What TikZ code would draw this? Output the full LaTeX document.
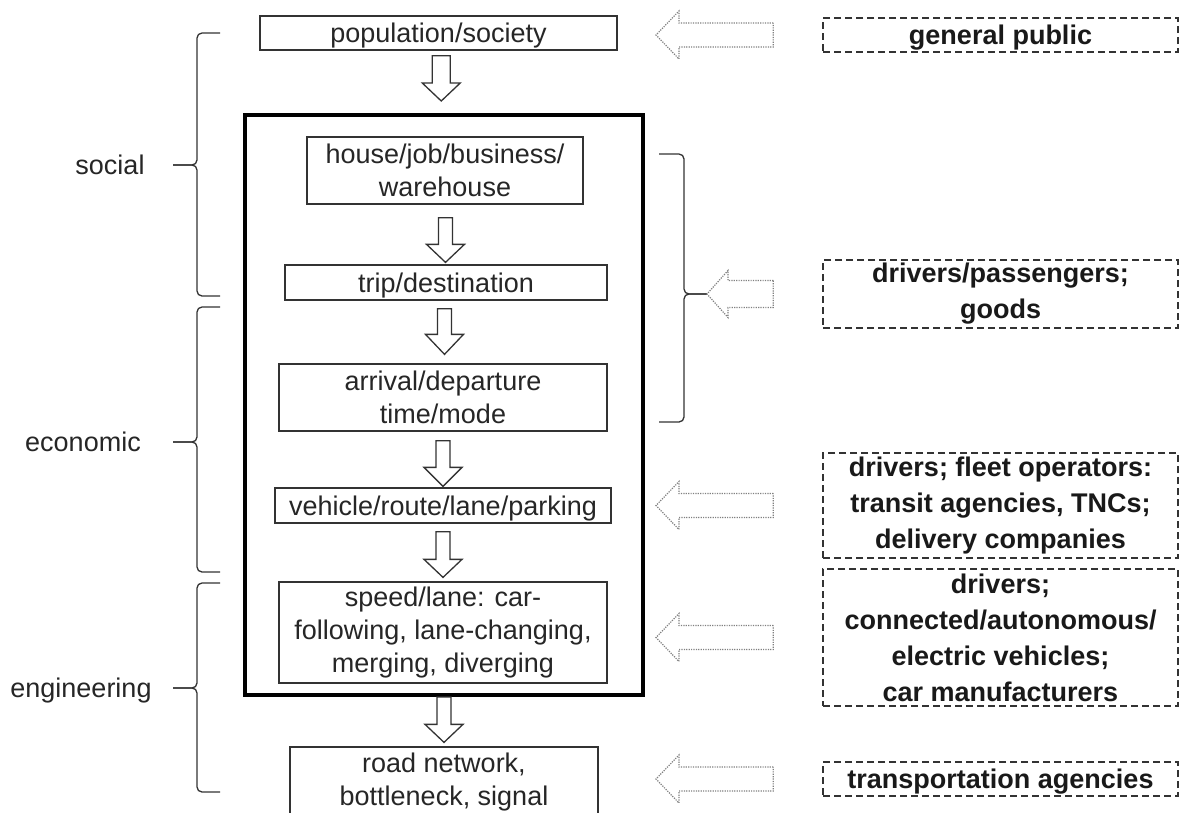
\documentclass[tikz,border=0pt]{standalone}
\usepackage{fontspec}
\setmainfont{Liberation Sans}
\usetikzlibrary{calc}
\newcommand\blockdn[6]{%
 \draw[blk] let \p1=(#1.south), \p2=(#2.north) in
  ({(\x1+\x2)/2-#5},{\y1-#3}) -- ({(\x1+\x2)/2+#5},{\y1-#3}) --
  ({(\x1+\x2)/2+#5},{\y2+#4+#6}) -- ({(\x1+\x2)/2+19pt},{\y2+#4+#6}) --
  ({(\x1+\x2)/2},{\y2+#4}) -- ({(\x1+\x2)/2-19pt},{\y2+#4+#6}) --
  ({(\x1+\x2)/2-#5},{\y2+#4+#6}) -- cycle;}
\newcommand\dotleft[5]{%
 \draw[dotarrow] let \p1=(#1.west), \p2=(#2) in
  ({\x1-49pt},{\y1+#3}) -- ({\x2+#5},{\y1+#3}) -- ({\x2+#5},{\y1+#4}) --
  (\x2,\y1) -- ({\x2+#5},{\y1-#4}) -- ({\x2+#5},{\y1-#3}) --
  ({\x1-49pt},{\y1-#3}) -- cycle;}
\begin{document}
\begin{tikzpicture}[x=1pt,y=-1pt,
  box/.style={draw=black!80, line width=1.3pt, fill=white, inner sep=0pt, align=center,
    font=\fontsize{27}{33}\selectfont, text=black!85},
  dbox/.style={draw=black!80, line width=1.4pt, dash pattern=on 7pt off 4pt, inner sep=0pt,
    align=center, font=\fontsize{27}{36}\selectfont\bfseries, text=black!90, minimum width=355pt},
  oneline/.style={text depth=0pt},
  blk/.style={draw=black!80, line width=1.3pt, fill=white, line join=miter},
  dotarrow/.style={draw=black!50, line width=1.2pt, dash pattern=on 1.2pt off 1.2pt},
  brc/.style={draw=black!80, line width=1.3pt, rounded corners=5pt},
  lbl/.style={font=\fontsize{27}{33}\selectfont, text=black!85, inner sep=0pt, anchor=base}
]
\fill[white] (0,0) rectangle (1181,812);
\useasboundingbox (0,0) rectangle (1181,812);

% main chain
\node[box, oneline, minimum width=357pt, minimum height=34pt] (pop) at (438.5,33) {population/society};
\node[draw=black, line width=4pt, minimum width=398pt, minimum height=580pt, inner sep=0pt] (big) at (444,405) {};
\node[box, minimum width=276pt, minimum height=67pt] (house) at (445,170.5) {house/job/business/\\warehouse};
\node[box, oneline, minimum width=322pt, minimum height=35pt] (trip) at (446,282.5) {trip/destination};
\node[box, minimum width=328pt, minimum height=67pt] (arr) at (443,397.5) {arrival/departure\\time/mode};
\node[box, oneline, minimum width=336pt, minimum height=35pt] (veh) at (443,505.5) {vehicle/route/lane/parking};
\node[box, minimum width=328pt, minimum height=101pt] (speed) at (443,632.5) {speed/lane: car-\\following, lane-changing,\\merging, diverging};
\node[box, minimum width=308pt, minimum height=70pt] (road) at (444,782) {road network,\\bottleneck, signal};

% block arrows
\blockdn{pop}{big}{5pt}{12pt}{9pt}{18pt}
\blockdn{house}{trip}{13pt}{2pt}{7pt}{18pt}
\blockdn{trip}{arr}{8pt}{9pt}{7pt}{20pt}
\blockdn{arr}{veh}{9pt}{1pt}{7pt}{19pt}
\blockdn{veh}{speed}{8pt}{4pt}{7pt}{18pt}
\blockdn{big}{road}{0pt}{4pt}{7pt}{18pt}

% right dashed boxes
\node[dbox, oneline, minimum height=34pt] (gp) at (1000.5,35) {general public};
\node[dbox, minimum height=68pt] (dp) at (1000.5,294) {drivers/passengers;\\goods};
\node[dbox, minimum height=105pt] (fleet) at (1000.5,505.5) {drivers; fleet operators:\\transit agencies, TNCs;\\delivery companies};
\node[dbox, minimum height=137pt] (cav) at (1000.5,637.5) {drivers;\\connected/autonomous/\\electric vehicles;\\car manufacturers};
\node[dbox, oneline, minimum height=34pt] (ta) at (1000.5,779) {transportation agencies};

% right brace
\coordinate (rb) at (707,294);
\coordinate (tipcol) at (656,0);
\draw[brc] (659,154) -- (684,154) -- (684,294) -- (rb);
\draw[brc] (rb) -- (684,294) -- (684,422) -- (659,422);

% dotted arrows
\dotleft{gp}{tipcol}{12pt}{24pt}{23pt}
\dotleft{dp}{rb}{13.5pt}{23.5pt}{21pt}
\dotleft{fleet}{tipcol}{12pt}{24pt}{23pt}
\dotleft{cav}{tipcol}{12pt}{24pt}{23pt}
\dotleft{ta}{tipcol}{12pt}{24pt}{23pt}

% left braces
\draw[brc] (220,33) -- (197,33) -- (197,165) -- (173,165);
\draw[brc] (173,165) -- (197,165) -- (197,296) -- (220,296);
\draw[brc] (220,307) -- (197,307) -- (197,442) -- (173,442);
\draw[brc] (173,442) -- (197,442) -- (197,572) -- (220,572);
\draw[brc] (220,583) -- (197,583) -- (197,688) -- (173,688);
\draw[brc] (173,688) -- (197,688) -- (197,792) -- (220,792);

\node[lbl] (lsoc) at (110,174) {social};
\node[lbl] (leco) at (83,451) {economic};
\node[lbl] (leng) at (81,697) {engineering};
\end{tikzpicture}
\end{document}
